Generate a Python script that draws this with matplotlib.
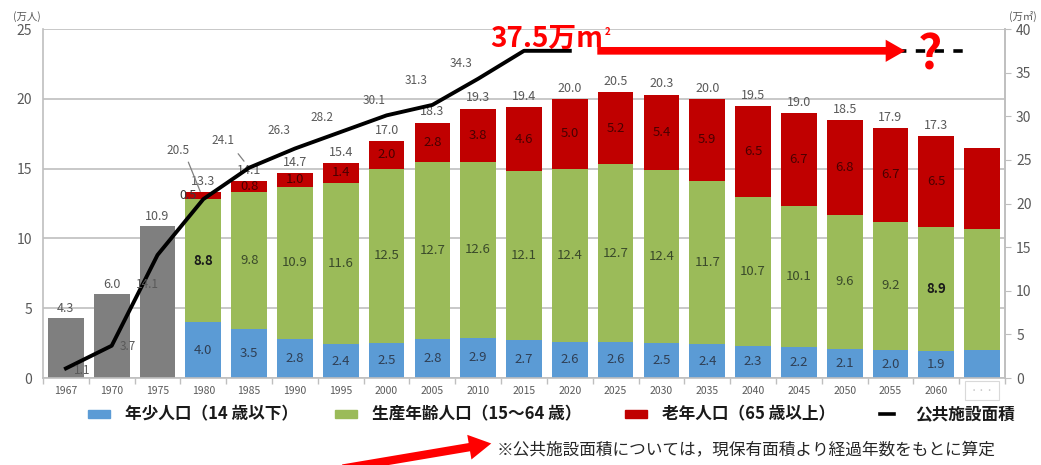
import matplotlib
matplotlib.use('Agg')
import matplotlib.pyplot as plt
from matplotlib.patches import Rectangle, FancyArrowPatch
from matplotlib.lines import Line2D
import numpy as np

plt.rcParams['font.family'] = ['Noto Sans CJK JP', 'DejaVu Sans']

# ---------------- data ----------------
years = ['1967', '1970', '1975', '1980', '1985', '1990', '1995', '2000', '2005',
         '2010', '2015', '2020', '2025', '2030', '2035', '2040', '2045', '2050',
         '2055', '2060', '・・・']
early_total = [4.3, 6.0, 10.9]                      # 1967-1975 (no breakdown)
young = [4.0, 3.5, 2.8, 2.4, 2.5, 2.8, 2.9, 2.7, 2.6, 2.6, 2.5, 2.4, 2.3, 2.2, 2.1, 2.0, 1.9, 2.0]
working = [8.8, 9.8, 10.9, 11.6, 12.5, 12.7, 12.6, 12.1, 12.4, 12.7, 12.4, 11.7, 10.7, 10.1, 9.6, 9.2, 8.9, 8.7]
old = [0.5, 0.8, 1.0, 1.4, 2.0, 2.8, 3.8, 4.6, 5.0, 5.2, 5.4, 5.9, 6.5, 6.7, 6.8, 6.7, 6.5, 5.8]
totals = [13.3, 14.1, 14.7, 15.4, 17.0, 18.3, 19.3, 19.4, 20.0, 20.5, 20.3, 20.0,
          19.5, 19.0, 18.5, 17.9, 17.3, None]
area = [1.1, 3.7, 14.1, 20.5, 24.1, 26.3, 28.2, 30.1, 31.3, 34.3, 37.5, 37.5]
area_labels = ['1.1', '3.7', '14.1', '20.5', '24.1', '26.3', '28.2', '30.1', '31.3', '34.3', None, None]
peak_area = 37.5
bold_working = {'1980', '2060'}

legend_labels = ['年少人口（14 歳以下）', '生産年齢人口（15～64 歳）', '老年人口（65 歳以上）', '公共施設面積']
note_text = '※公共施設面積については，現保有面積より経過年数をもとに算定'

# ---------------- style ----------------
C_GRAY = '#7f7f7f'
C_BLUE = '#5b9bd5'
C_GREEN = '#9bbb59'
C_RED = '#c00000'
C_TXT = '#595959'
C_GRID = '#bfbfbf'

W, H = 1041, 465
fig = plt.figure(figsize=(W / 100, H / 100), dpi=100)
ax = fig.add_axes([43 / W, 1 - 378 / H, (1005 - 43) / W, (378 - 29) / H])
ax2 = ax.twinx()

x = np.arange(len(years))
bw = 0.78
n_early = len(early_total)
xs = x[n_early:]

ax.bar(x[:n_early], early_total, width=bw, color=C_GRAY, zorder=2)
ax.bar(xs, young, width=bw, color=C_BLUE, zorder=2)
ax.bar(xs, working, width=bw, bottom=young, color=C_GREEN, zorder=2)
bot_old = np.array(young) + np.array(working)
ax.bar(xs, old, width=bw, bottom=bot_old, color=C_RED, zorder=2)

# labels for early bars
for xi, v in zip(x[:n_early], early_total):
    ax.annotate(f'{v:.1f}', (xi, v), xytext=(0, 2), textcoords='offset points',
                ha='center', va='bottom', fontsize=9, color=C_TXT)

# labels inside segments
for i, xi in enumerate(xs):
    if totals[i] is None:
        continue
    y, w, o = young[i], working[i], old[i]
    ax.text(xi, y / 2, f'{y:.1f}', ha='center', va='center', fontsize=9.5, color='#2f3f55')
    isb = years[xi] in bold_working
    ax.text(xi, y + w / 2, f'{w:.1f}', ha='center', va='center', fontsize=9.5,
            color='#1a1a1a' if isb else '#3a4a2a', fontweight='bold' if isb else 'normal')
    if o < 0.7:
        ax.text(xi - 0.33, y + w + o / 2, f'{o:.1f}', ha='center', va='center',
                fontsize=9, color='#3a3a3a')
    else:
        ax.text(xi, y + w + o / 2, f'{o:.1f}', ha='center', va='center',
                fontsize=9.5, color='#4a0000')
    ax.annotate(f'{totals[i]:.1f}', (xi, y + w + o), xytext=(0, 3),
                textcoords='offset points', ha='center', va='bottom',
                fontsize=9, color=C_TXT)

# axes styling
ax.set_xlim(-0.5, len(years) - 0.5)
ax.set_ylim(0, 25)
ax.set_yticks(np.arange(0, 26, 5))
ax.grid(axis='y', color=C_GRID, lw=1.2, zorder=0)
ax.set_axisbelow(True)
ax.set_xticks(x)
ax.set_xticklabels(years)
ax.set_xticks(np.arange(-0.5, len(years), 1), minor=True)
ax.tick_params(axis='x', which='major', length=0, labelsize=7.5, labelcolor=C_TXT, pad=6)
ax.tick_params(axis='x', which='minor', length=4, color=C_GRID, width=1)
ax.tick_params(axis='y', length=0, labelsize=10, labelcolor=C_TXT, pad=8)
for s in ['left', 'bottom', 'right']:
    ax.spines[s].set_color(C_GRID)
    ax.spines[s].set_linewidth(1.2)
ax.spines['top'].set_visible(False)
lab = ax.get_xticklabels()[-1]
lab.set_color('#c8c8c8')
lab.set_fontsize(6)
lab.set_bbox(dict(facecolor='white', edgecolor='#d9d9d9', lw=0.8, boxstyle='square,pad=0.6'))

ax2.set_ylim(0, 40)
ax2.set_yticks(np.arange(0, 41, 5))
ax2.tick_params(axis='y', length=4, color=C_GRID, labelsize=10, labelcolor=C_TXT, pad=4)
for s in ['left', 'bottom', 'top']:
    ax2.spines[s].set_visible(False)
ax2.spines['right'].set_color(C_GRID)
ax2.spines['right'].set_linewidth(1.2)

# facility area line
xl = x[:len(area)]
ax2.plot(xl, area, color='black', lw=2.8, solid_joinstyle='round', zorder=5)

# line labels (offsets in pixels)
offs = [(16, -2), (16, -1), (-10, -30), (-25, 49), (-26, 27), (-16, 18),
        (-19, 14), (-12, 15), (-16, 24), (-17, 15), None, None]
leaders = {3: (-15, 37), 4: (-11, 14)}
for i, (xi, v, t) in enumerate(zip(xl, area, area_labels)):
    if t is None:
        continue
    dx, dy = offs[i]
    ax2.annotate(t, (xi, v), xytext=(dx * 0.72, dy * 0.72), textcoords='offset points',
                 ha='center', va='center', fontsize=8.5, color=C_TXT, zorder=6)
for i, (sx, sy) in leaders.items():
    ax2.annotate('', (xl[i], area[i]), xytext=(sx * 0.72, sy * 0.72), textcoords='offset points',
                 arrowprops=dict(arrowstyle='-', color='#808080', lw=0.9, shrinkA=0, shrinkB=6))

# big red annotation
t37 = ax2.text(9.26, 38.9, '37.5万m', color='red', fontsize=20, fontweight='bold',
               ha='left', va='center', zorder=7)
ax2.annotate('2', xy=(1, 1), xycoords=t37, xytext=(1, -2), textcoords='offset points',
             ha='left', va='top', color='red', fontsize=7, fontweight='bold', zorder=7)
ax2.annotate('', xy=(18.32, peak_area), xytext=(11.6, peak_area),
             arrowprops=dict(arrowstyle='simple,head_length=1.4,head_width=1.6,tail_width=0.55',
                             mutation_scale=10, fc='red', ec='none', shrinkA=0, shrinkB=0),
             zorder=7)
ax2.plot([18.15, 19.75], [peak_area, peak_area], color='black', lw=2.6,
         ls=(0, (2.6, 2.6)), zorder=6)
ax2.text(18.87, 37.0, '?', color='red', fontsize=34, fontweight='bold',
         ha='center', va='center', zorder=8)

# units
fig.text(27 / W, 1 - 17 / H, '(万人)', fontsize=7.5, color=C_TXT, ha='center', va='center')
fig.text(1023 / W, 1 - 16 / H, '(万㎡)', fontsize=7.5, color=C_TXT, ha='center', va='center')

# legend (manual layout, pixel positions)
leg_y = 1 - 414 / H
leg_x = [88, 335, 625, 880]
leg_colors = [C_BLUE, C_GREEN, C_RED, 'black']
for k, (lx, lbl, col) in enumerate(zip(leg_x, legend_labels, leg_colors)):
    if k < 3:
        fig.patches.append(Rectangle((lx / W, leg_y - 4 / H), 22 / W, 8 / H,
                                     transform=fig.transFigure, color=col))
        tx = lx + 37
    else:
        fig.lines.append(Line2D([lx / W, (lx + 14) / W], [leg_y, leg_y],
                                transform=fig.transFigure, color=col, lw=2.6))
        tx = lx + 35
    fig.text(tx / W, leg_y, lbl, fontsize=12, fontweight='bold', color='#1a1a1a',
             ha='left', va='center')

# footnote + arrow
fig.text(497 / W, 1 - 451 / H, note_text, fontsize=12, color='#262626', ha='left', va='center')
fig.patches.append(FancyArrowPatch(
    (340, -4), (494, 22), transform=None,
    arrowstyle='simple,head_length=1.6,head_width=1.8,tail_width=0.6',
    mutation_scale=10, fc='red', ec='none'))

fig.savefig('out.png', dpi=100)
